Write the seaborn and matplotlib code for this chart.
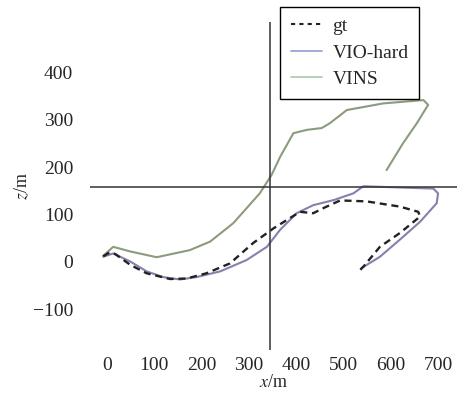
import numpy as np
import pandas as pd
import matplotlib
matplotlib.use("Agg")
import matplotlib.pyplot as plt
from matplotlib.lines import Line2D
import seaborn as sns

# trajectory data (x, z in metres)
gt_x = [-8, 5, 17, 49, 84, 133, 168, 210, 260, 309, 352, 408, 436, 460, 493, 549, 619, 658, 662, 619, 577, 542, 535]
gt_z = [12, 20, 17, -6, -24, -36, -35, -24, -3, 40, 71, 106, 103, 115, 130, 128, 117, 106, 96, 61, 32, -10, -17]

vio_x = [-8, 13, 49, 84, 119, 154, 189, 239, 295, 338, 366, 401, 436, 480, 521, 542, 600, 690, 700, 697, 662, 619, 577, 538]
vio_z = [11, 18, 1, -20, -32, -37, -32, -20, 4, 32, 68, 103, 120, 131, 145, 160, 158, 155, 145, 124, 85, 47, 11, -13]

vins_x = [-8, 13, 50, 105, 175, 218, 267, 323, 348, 366, 394, 422, 454, 471, 507, 584, 669, 679, 655, 626, 591]
vins_z = [13, 32, 22, 10, 25, 43, 82, 145, 184, 222, 272, 279, 283, 293, 321, 335, 342, 332, 293, 251, 194]

x_ticks = [0, 100, 200, 300, 400, 500, 600, 700]
z_ticks = [-100, 0, 100, 200, 300, 400]

sns.set_style("white")
plt.rcParams['font.family'] = ['Liberation Serif', 'DejaVu Serif']
plt.rcParams['mathtext.fontset'] = 'stix'

fig = plt.figure(figsize=(4.61, 4.03), dpi=100)
ax = fig.add_axes([90 / 461, 1 - 350 / 403, (457 - 90) / 461, (350 - 22) / 403])

df_gt = pd.DataFrame({"x": gt_x, "z": gt_z})
df_vio = pd.DataFrame({"x": vio_x, "z": vio_z})
df_vins = pd.DataFrame({"x": vins_x, "z": vins_z})

# estimator=None keeps the path order and repeated x values as they are
sns.lineplot(data=df_vins, x="x", y="z", sort=False, estimator=None, ax=ax,
             color="#8b9c7e", lw=1.5)
sns.lineplot(data=df_vio, x="x", y="z", sort=False, estimator=None, ax=ax,
             color="#8282ad", lw=1.5)
sns.lineplot(data=df_gt, x="x", y="z", sort=False, estimator=None, ax=ax,
             color="#222222", lw=1.7, linestyle=(0, (3, 2)))

# cross-hair axes lines
ax.axvline(345, color="#333333", lw=1.1)
ax.axhline(159, color="#333333", lw=1.1)

ax.set_xlim(-36, 740)
ax.set_ylim(-186, 507)
ax.set_xticks(x_ticks)
ax.set_yticks(z_ticks)
ax.set_yticklabels([str(v).replace('-', '\u2212') for v in z_ticks])
for s in ax.spines.values():
    s.set_visible(False)
ax.tick_params(axis='both', length=0, labelsize=14)
ax.tick_params(axis='y', pad=12)
ax.tick_params(axis='x', pad=5)
ax.set_xlabel("$x$/m", fontsize=13, labelpad=0)
ax.set_ylabel("$z$/m", fontsize=13, labelpad=1)

handles = [
    Line2D([], [], color="#222222", lw=1.5, linestyle=(0, (2, 2))),
    Line2D([], [], color="#8e9ed0", lw=1.2),
    Line2D([], [], color="#a9c9ad", lw=1.2),
]
leg = ax.legend(handles, ["gt", "VIO-hard", "VINS"], loc="upper left",
                bbox_to_anchor=(280 / 461, 1 - 7 / 403), bbox_transform=fig.transFigure,
                borderaxespad=0, fontsize=14, frameon=True, fancybox=False,
                framealpha=1, edgecolor="black", handlelength=1.6,
                handletextpad=0.55, borderpad=0.55, labelspacing=0.45)
leg.get_frame().set_linewidth(1.0)

fig.savefig("out.png", dpi=100)
